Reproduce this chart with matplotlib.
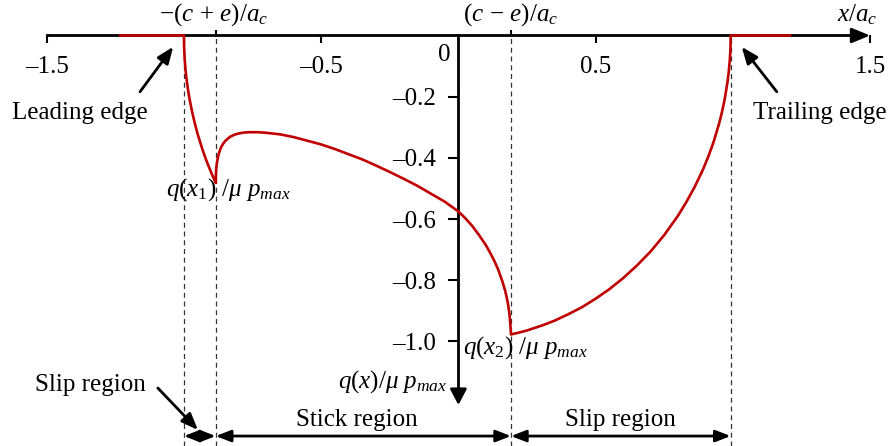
import matplotlib
matplotlib.use("Agg")
import matplotlib.pyplot as plt

plt.rcParams['font.family'] = ['Liberation Serif', 'DejaVu Serif']
plt.rcParams['mathtext.fontset'] = 'custom'
plt.rcParams['mathtext.rm'] = 'Liberation Serif'
plt.rcParams['mathtext.it'] = 'Liberation Serif:italic'
plt.rcParams['mathtext.bf'] = 'Liberation Serif:bold'

# tangential traction q(x)/mu p_max
# flat part ahead of the contact + leading slip region
x_slip1 = [-1.232, -1.0, -0.999, -0.997, -0.994, -0.99, -0.985, -0.98, -0.97, -0.96,
           -0.95, -0.94, -0.93, -0.92, -0.91, -0.90, -0.89, -0.884]
y_slip1 = [0.0, 0.0, -0.046, -0.080, -0.113, -0.145, -0.178, -0.205, -0.250, -0.288,
           -0.322, -0.351, -0.379, -0.404, -0.427, -0.449, -0.470, -0.482]
# stick region
x_stick = [-0.8835, -0.883, -0.882, -0.880, -0.875, -0.870, -0.865, -0.858, -0.85, -0.84,
           -0.83, -0.815, -0.80, -0.78, -0.76, -0.73, -0.70, -0.65, -0.60, -0.55,
           -0.50, -0.45, -0.40, -0.35, -0.30, -0.25, -0.20, -0.15, -0.10, -0.05,
           0.0, 0.025, 0.05, 0.075, 0.10, 0.115, 0.13, 0.145, 0.16, 0.17,
           0.175, 0.18, 0.185, 0.188, 0.189, 0.1905]
y_stick = [-0.455, -0.445, -0.434, -0.418, -0.393, -0.378, -0.366, -0.355, -0.345, -0.337,
           -0.330, -0.324, -0.320, -0.317, -0.316, -0.316, -0.318, -0.323, -0.332, -0.344,
           -0.356, -0.371, -0.388, -0.405, -0.425, -0.446, -0.468, -0.491, -0.517, -0.543,
           -0.575, -0.597, -0.622, -0.652, -0.685, -0.709, -0.735, -0.765, -0.803, -0.833,
           -0.852, -0.874, -0.903, -0.929, -0.942, -0.960]
# trailing slip region + flat part behind the contact
x_slip2 = [0.1916, 0.22, 0.25, 0.28, 0.31, 0.35, 0.40, 0.45, 0.50, 0.55,
           0.60, 0.65, 0.70, 0.75, 0.80, 0.83, 0.86, 0.89, 0.91, 0.93,
           0.95, 0.96, 0.97, 0.98, 0.985, 0.989, 0.991, 0.992, 1.208]
y_slip2 = [-0.977, -0.971, -0.964, -0.955, -0.946, -0.932, -0.911, -0.888, -0.860, -0.829,
           -0.793, -0.752, -0.706, -0.652, -0.589, -0.545, -0.496, -0.440, -0.397, -0.347,
           -0.287, -0.251, -0.209, -0.154, -0.118, -0.077, -0.045, 0.0, 0.0]

# region boundaries: leading edge, x1, x2, trailing edge
x_lead = -1.0
x1 = -0.884
x2 = 0.1916
x_trail = 0.992

x_ticks = [-1.5, -0.5, 0.5, 1.5]
x_ticklabels = ['\u20131.5', '\u20130.5', '0.5', '1.5']
y_ticks = [-0.2, -0.4, -0.6, -0.8, -1.0]
y_ticklabels = ['\u20130.2', '\u20130.4', '\u20130.6', '\u20130.8', '\u20131.0']

fig = plt.figure(figsize=(8.91, 4.46), dpi=100)
ax = fig.add_axes([0, 0, 1, 1])
ax.set_xlim(-1.670, 1.576)
ax.set_ylim(-1.3415, 0.116)
ax.patch.set_visible(False)

for s in ['top', 'right']:
    ax.spines[s].set_visible(False)
ax.spines['bottom'].set_position(('data', 0))
ax.spines['bottom'].set_bounds(-1.5, 1.46)
ax.spines['left'].set_position(('data', 0))
ax.spines['left'].set_bounds(-1.17, 0)
for s in ['bottom', 'left']:
    ax.spines[s].set_linewidth(2.0)

ax.set_xticks(x_ticks, x_ticklabels)
ax.set_yticks(y_ticks, y_ticklabels)
ax.tick_params(axis='x', direction='out', length=5.5, width=1.5, pad=9, labelsize=18)
ax.tick_params(axis='y', direction='out', length=7, width=1.5, pad=9, labelsize=18)

# arrow heads of the axes
ax.annotate('', xy=(1.5, 0), xytext=(1.455, 0),
            arrowprops=dict(arrowstyle='-|>,head_length=1.1,head_width=0.45',
                            mutation_scale=10, color='k', lw=2, shrinkA=0, shrinkB=0))
ax.annotate('', xy=(0, -1.2075), xytext=(0, -1.165),
            arrowprops=dict(arrowstyle='-|>,head_length=0.95,head_width=0.5',
                            mutation_scale=10, color='k', lw=2, shrinkA=0, shrinkB=0))

# small ticks above axis at x1 and x2
ax.vlines([x1, x2], 0, 0.017, colors='k', lw=1.5)

# dashed region boundaries
ax.vlines([x_lead, x1, x2, x_trail], -1.3415, 0, colors='#333333', lw=0.9,
          linestyles=(0, (4, 3)))

ax.plot(x_slip1 + x_stick + x_slip2, y_slip1 + y_stick + y_slip2,
        color='#C00000', lw=1.9, zorder=3, solid_joinstyle='round')

fs = 18
ax.text(-0.053, -0.064, '0', fontsize=fs, ha='center', va='center')
ax.text(x1 - 0.006, 0.067, r'$-(c\,+\,e)/a_c$', fontsize=fs, ha='center', va='center')
ax.text(x2, 0.067, r'$(c\,-\,e)/a_c$', fontsize=fs, ha='center', va='center')
ax.text(1.452, 0.067, r'$x/a_c$', fontsize=fs, ha='center', va='center')
ax.text(-1.378, -0.253, 'Leading edge', fontsize=fs, ha='center', va='center')
ax.text(1.317, -0.253, 'Trailing edge', fontsize=fs, ha='center', va='center')
ax.text(-1.065, -0.505, r'$q(x_1)\ /\mu\ p_{max}$', fontsize=fs, ha='left', va='center')
ax.text(0.017, -1.021, r'$q(x_2)\ /\mu\ p_{max}$', fontsize=fs, ha='left', va='center')
ax.text(-0.040, -1.132, r'$q(x)/\mu\ p_{max}$', fontsize=fs, ha='right', va='center')
ax.text(-1.339, -1.142, 'Slip region', fontsize=fs, ha='center', va='center')
ax.text(-0.370, -1.257, 'Stick region', fontsize=fs, ha='center', va='center')
ax.text(0.589, -1.257, 'Slip region', fontsize=fs, ha='center', va='center')

pointer = dict(arrowstyle='-|>,head_length=1.0,head_width=0.4', mutation_scale=10,
               color='k', lw=2, shrinkA=0, shrinkB=0)
ax.annotate('', xy=(-1.039, -0.037), xytext=(-1.160, -0.184), arrowprops=pointer)
ax.annotate('', xy=(1.032, -0.037), xytext=(1.160, -0.184), arrowprops=pointer)
ax.annotate('', xy=(-0.949, -1.289), xytext=(-1.095, -1.152), arrowprops=pointer)

span = dict(arrowstyle='<|-|>,head_length=0.9,head_width=0.35', mutation_scale=10,
            color='k', lw=2, shrinkA=0, shrinkB=0)
y_span = -1.309
for a, b in [(x_lead, x1), (x1, x2), (x2, x_trail)]:
    ax.annotate('', xy=(b, y_span), xytext=(a, y_span), arrowprops=span)

fig.savefig('out.png', dpi=100)
